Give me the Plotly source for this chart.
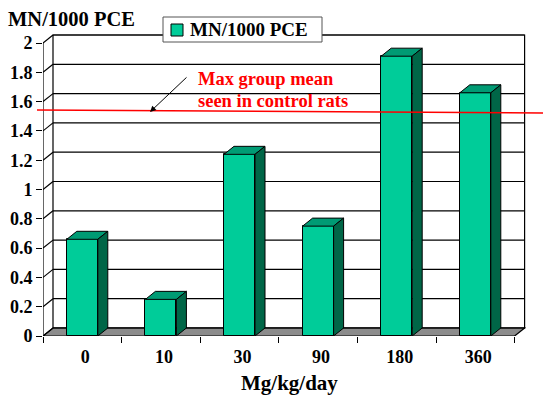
import plotly.graph_objects as go

# ---- data -------------------------------------------------------------
doses = ["0", "10", "30", "90", "180", "360"]
mn_per_1000_pce = [0.66, 0.25, 1.24, 0.75, 1.91, 1.66]
y_ticks = [0, 0.2, 0.4, 0.6, 0.8, 1.0, 1.2, 1.4, 1.6, 1.8, 2.0]
y_tick_labels = ["0", "0.2", "0.4", "0.6", "0.8", "1", "1.2", "1.4", "1.6", "1.8", "2"]
series_name = "MN/1000 PCE"
control_note = ["Max group mean", "seen in control rats"]
control_max = (1.543, 1.522)  # hand-drawn reference line, left and right ends

# ---- geometry / style ---------------------------------------------------
W, H = 543, 396
M_L, M_R, M_T, M_B = 43, 17, 34, 60
PX_PER_CAT = 78.6      # horizontal pixels per category slot
PX_PER_UNIT = 146.5    # vertical pixels per y unit
DEPTH_PX = (10, 8)     # oblique offset of the back wall
FONT = "Liberation Serif, Times New Roman, serif"
FRONT = "#00CC99"
TOP = "#009B74"
SIDE = "#006647"
FLOOR = "#8C8C8C"
LINE_W = 1.2

plot_w = W - M_L - M_R
plot_h = H - M_T - M_B
x_lo = -0.5
x_hi = x_lo + plot_w / PX_PER_CAT
y_hi = plot_h / PX_PER_UNIT
dx = DEPTH_PX[0] / PX_PER_CAT
dy = DEPTH_PX[1] / PX_PER_UNIT
bar_w = 31 / PX_PER_CAT
n = len(doses)
x_right = n - 0.5
y_top = y_ticks[-1]


def px_x(px):
    return x_lo + (px - M_L) / PX_PER_CAT


def px_y(py):
    return (H - M_B - py) / PX_PER_UNIT


def paper_x(px):
    return (px - M_L) / plot_w


def paper_y(py):
    return (H - M_B - py) / plot_h


def poly(pts):
    return "M " + " L ".join(f"{x:.5f},{y:.5f}" for x, y in pts) + " Z"


black = dict(color="black", width=LINE_W)
shapes = []

# back wall and floor
shapes.append(dict(type="rect", layer="below", x0=x_lo + dx, x1=x_right + dx,
                   y0=dy, y1=y_top + dy, fillcolor="white", line=black))
shapes.append(dict(type="path", layer="below",
                   path=poly([(x_lo, 0), (x_right, 0), (x_right + dx, dy), (x_lo + dx, dy)]),
                   fillcolor=FLOOR, line=black))
# gridlines on the back wall and their traces on the side wall
for v in y_ticks:
    shapes.append(dict(type="line", layer="below", x0=x_lo + dx, x1=x_right + dx,
                       y0=v + dy, y1=v + dy, line=black))
    shapes.append(dict(type="line", layer="below", x0=x_lo, x1=x_lo + dx,
                       y0=v, y1=v + dy, line=black))
# front value axis
shapes.append(dict(type="line", layer="below", x0=x_lo, x1=x_lo, y0=0, y1=y_top, line=black))

# top and side faces of each column
for i, v in enumerate(mn_per_1000_pce):
    xl, xr = i - bar_w / 2, i + bar_w / 2
    shapes.append(dict(type="path", layer="above",
                       path=poly([(xl, v), (xr, v), (xr + dx, v + dy), (xl + dx, v + dy)]),
                       fillcolor=TOP, line=dict(color="black", width=1)))
    shapes.append(dict(type="path", layer="above",
                       path=poly([(xr, 0), (xr, v), (xr + dx, v + dy), (xr + dx, dy)]),
                       fillcolor=SIDE, line=dict(color="black", width=1)))

# control reference line
shapes.append(dict(type="line", layer="above", xref="paper", yref="y",
                   x0=paper_x(37), x1=paper_x(543), y0=control_max[0], y1=control_max[1],
                   line=dict(color="#FF0000", width=1.5)))

# legend box with its swatch
shapes.append(dict(type="rect", layer="above", xref="paper", yref="paper",
                   x0=paper_x(163), x1=paper_x(322), y0=paper_y(42), y1=paper_y(17),
                   fillcolor="white", line=dict(color="#555555", width=1)))
shapes.append(dict(type="rect", layer="above", xref="paper", yref="paper",
                   x0=paper_x(171), x1=paper_x(183), y0=paper_y(36), y1=paper_y(24),
                   fillcolor=FRONT, line=dict(color="black", width=1)))

fig = go.Figure()
fig.add_trace(go.Bar(
    x=list(range(n)), y=mn_per_1000_pce, width=bar_w,
    name=series_name, showlegend=False,
    marker=dict(color=FRONT, line=dict(color="black", width=1)),
))

annotations = [
    dict(x=paper_x(188), y=paper_y(30), xref="paper", yref="paper", text=series_name,
         showarrow=False, xanchor="left", yanchor="middle",
         font=dict(family=FONT, size=19, color="black", weight="bold")),
    dict(x=px_x(150), y=px_y(112), xref="x", yref="y", text="", showarrow=True,
         ax=38, ay=-36, arrowhead=2, arrowsize=1.2, arrowwidth=1, arrowcolor="black"),
    dict(x=px_x(196), y=px_y(79), xref="x", yref="y", text=control_note[0],
         showarrow=False, xanchor="left", yanchor="middle",
         font=dict(family=FONT, size=18.5, color="#FF0000", weight="bold")),
    dict(x=px_x(196), y=px_y(101), xref="x", yref="y", text=control_note[1],
         showarrow=False, xanchor="left", yanchor="middle",
         font=dict(family=FONT, size=18.5, color="#FF0000", weight="bold")),
    dict(x=paper_x(289), y=paper_y(383), xref="paper", yref="paper", text="Mg/kg/day",
         showarrow=False, xanchor="center", yanchor="middle",
         font=dict(family=FONT, size=21, color="black", weight="bold")),
]

fig.update_layout(
    width=W, height=H,
    margin=dict(l=M_L, r=M_R, t=M_T, b=M_B, autoexpand=False),
    paper_bgcolor="white", plot_bgcolor="white",
    font=dict(family=FONT, color="black"),
    title=dict(text=series_name, xref="container", yref="container",
               x=8 / W, xanchor="left", y=1 - 19 / H, yanchor="middle",
               font=dict(family=FONT, size=20.5, color="black", weight="bold")),
    showlegend=False,
    xaxis=dict(range=[x_lo, x_hi], showgrid=False, zeroline=False, showline=False,
               tickmode="array", tickvals=list(range(n)), ticktext=doses, ticks="",
               ticklabelshift=3, ticklabelstandoff=8,
               tickfont=dict(family=FONT, size=18, color="black", weight="bold"),
               minor=dict(tickmode="array", tickvals=[i - 0.5 for i in range(n + 1)],
                          ticks="outside", ticklen=6, tickwidth=LINE_W, tickcolor="black",
                          showgrid=False),
               fixedrange=True),
    yaxis=dict(range=[0, y_hi], showgrid=False, zeroline=False, showline=False,
               tickmode="array", tickvals=y_ticks, ticktext=y_tick_labels,
               ticks="outside", ticklen=6, tickwidth=LINE_W, tickcolor="black",
               tickfont=dict(family=FONT, size=18, color="black", weight="bold"),
               fixedrange=True),
    shapes=shapes,
    annotations=annotations,
    bargap=0,
)

fig.write_html("out.html")
